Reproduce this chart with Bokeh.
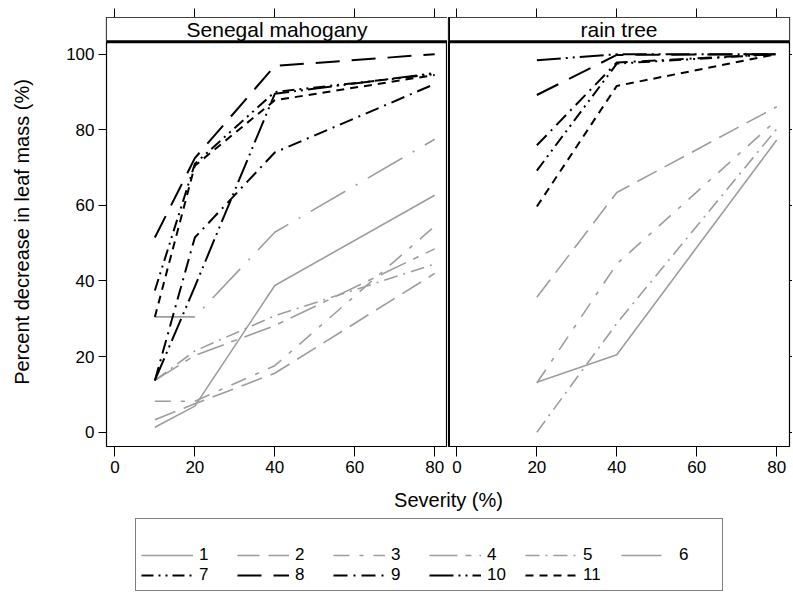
from bokeh.plotting import figure
from bokeh.models import (Range1d, Span, BoxAnnotation, Label, Legend, LegendItem,
                          LinearAxis, FixedTicker)
from bokeh.layouts import row, column
from bokeh.embed import file_html
from bokeh.resources import INLINE

FONT = "Liberation Sans"

# ---------------- data ----------------
tree_labels = ["1", "2", "3", "4", "5", "6", "7", "8", "9", "10", "11"]
x_ticks = [0, 20, 40, 60, 80]
y_ticks = [0, 20, 40, 60, 80, 100]

severity_sm = [10, 20, 40, 80]
sm_1 = [1.3, 6.9, 38.8, 62.7]
sm_2 = [3.3, 7.5, 15.6, 42.0]
sm_3 = [8.2, 8.2, 17.6, 54.5]
sm_4 = [13.7, 20.3, 28.2, 48.5]
sm_5 = [13.7, 21.5, 30.8, 44.5]
sm_6 = [30.5, 30.5, 52.9, 77.5]
sm_7 = [37.5, 71.0, 90.0, 94.7]
sm_8 = [51.5, 72.5, 96.9, 100.0]
sm_9 = [13.7, 51.5, 74.0, 92.1]
sm_10 = [13.7, 38.5, 89.5, 95.0]
sm_11 = [30.5, 70.5, 87.8, 94.5]

severity_rt = [20, 40, 80]
rt_1 = [13.2, 20.5, 77.3]
rt_2 = [35.7, 63.4, 86.1]
rt_3 = [13.0, 44.5, 82.6]
rt_5 = [0.0, 28.8, 80.2]
rt_7 = [69.2, 97.5, 100.0]
rt_8 = [89.2, 99.8, 100.0]
rt_9 = [75.9, 97.8, 100.0]
rt_10 = [98.4, 100.0, 100.0]
rt_11 = [59.7, 91.6, 100.0]

sm_series = {"1": sm_1, "2": sm_2, "3": sm_3, "4": sm_4, "5": sm_5, "6": sm_6,
             "7": sm_7, "8": sm_8, "9": sm_9, "10": sm_10, "11": sm_11}
rt_series = {"1": rt_1, "2": rt_2, "3": rt_3, "5": rt_5,
             "7": rt_7, "8": rt_8, "9": rt_9, "10": rt_10, "11": rt_11}

# ---------------- styles ----------------
GRAY = "#9d9d9d"
styles = {
    "1": (GRAY, "solid", 1.6),
    "2": (GRAY, "22 9", 1.6),
    "3": (GRAY, "16 10 4 10", 1.6),
    "4": (GRAY, "28 8 6 8", 1.6),
    "5": (GRAY, "14 6 2 6", 1.6),
    "6": (GRAY, "40 12 2 12", 1.6),
    "7": ("black", "12 5 2 5 2 5", 2.0),
    "8": ("black", "24 12", 2.0),
    "9": ("black", "14 6 2 6", 2.0),
    "10": ("black", "24 5 2 5 2 5", 2.0),
    "11": ("black", "8 6", 2.0),
}

XMIN, XMAX = -2.1, 83.2
YMIN, YMAX = -3.78, 109.7
STRIP_BOTTOM = 103.3


def blank_labels(ticks):
    return {t: "" for t in ticks}


def style_axis(ax, ticks, labels=True, tick_out=9):
    ax.major_tick_out = tick_out
    ax.major_tick_in = 0
    ax.minor_tick_line_color = None
    ax.axis_line_color = None
    ax.major_tick_line_color = "black"
    ax.major_tick_line_width = 1
    ax.major_label_text_font = FONT
    ax.major_label_text_font_size = "17px"
    ax.major_label_text_color = "black"
    if labels:
        ax.major_label_standoff = 4
    else:
        ax.major_label_overrides = blank_labels(ticks)
        ax.major_label_standoff = 0


def make_panel(title, xs, series, left):
    p = figure(frame_width=341, frame_height=429,
               x_range=Range1d(XMIN, XMAX), y_range=Range1d(YMIN, YMAX),
               output_backend="svg", toolbar_location=None,
               x_axis_location=None, y_axis_location=None)
    p.min_border = 0
    p.min_border_top = 17
    p.min_border_bottom = 34
    p.min_border_left = 106 if left else 1
    p.grid.visible = False
    p.outline_line_color = "black"
    p.outline_line_width = 1.2
    p.background_fill_color = "white"
    p.border_fill_color = "white"

    xb = LinearAxis(ticker=FixedTicker(ticks=x_ticks))
    style_axis(xb, x_ticks, labels=True, tick_out=10)
    p.add_layout(xb, "below")
    xt = LinearAxis(ticker=FixedTicker(ticks=x_ticks))
    style_axis(xt, x_ticks, labels=False, tick_out=9)
    p.add_layout(xt, "above")
    ya = LinearAxis(ticker=FixedTicker(ticks=y_ticks))
    if left:
        style_axis(ya, y_ticks, labels=True, tick_out=8)
        ya.axis_label = "Percent decrease in leaf mass (%)"
        ya.axis_label_text_font = FONT
        ya.axis_label_text_font_style = "normal"
        ya.axis_label_text_font_size = "20px"
        ya.axis_label_text_color = "black"
        ya.axis_label_standoff = 30
        p.add_layout(ya, "left")
    else:
        style_axis(ya, y_ticks, labels=False, tick_out=3)
        p.add_layout(ya, "right")

    for key in tree_labels:
        if key not in series:
            continue
        color, dash, w = styles[key]
        p.line(xs, series[key], line_color=color, line_dash=dash, line_width=w)

    # strip header
    p.add_layout(BoxAnnotation(bottom=STRIP_BOTTOM, fill_color="white", fill_alpha=1.0,
                               line_color=None))
    p.add_layout(Span(location=STRIP_BOTTOM, dimension="width", line_color="black",
                      line_width=3))
    p.add_layout(Label(x=(XMIN + XMAX) / 2, y=(STRIP_BOTTOM + YMAX) / 2, text=title,
                       text_align="center", text_baseline="middle",
                       text_font=FONT, text_font_size="21px", text_color="black"))
    if not left:
        p.add_layout(Span(location=XMIN, dimension="height", line_color="black",
                          line_width=3))
    return p


p_left = make_panel("Senegal mahogany", severity_sm, sm_series, True)
p_right = make_panel("rain tree", severity_rt, rt_series, False)

# ---------------- legend figure ----------------
LEG_H = 112
# the legend's renderers carry the real series but sit outside this figure's visible range
p_leg = figure(width=793, height=LEG_H, x_range=Range1d(0, 1), y_range=Range1d(-400, -300),
               output_backend="svg", toolbar_location=None,
               x_axis_location=None, y_axis_location=None)
p_leg.min_border = 0
p_leg.grid.visible = False
p_leg.outline_line_color = None

items = []
for key in tree_labels:
    color, dash, w = styles[key]
    r = p_leg.line(x=severity_sm, y=sm_series[key], line_color=color, line_dash=dash,
                   line_width=w)
    items.append(LegendItem(label=key, renderers=[r]))

legend = Legend(items=items, ncols=6, orientation="horizontal", location=(135, 1),
                title=" ", title_text_font_size="16px", title_standoff=3,
                border_line_color="black", border_line_width=1.2,
                background_fill_color="white", background_fill_alpha=1.0,
                padding=5, margin=0, spacing=0,
                glyph_width=52, glyph_height=20, label_standoff=6, label_width=38,
                label_text_font=FONT, label_text_font_size="17px",
                label_text_color="black")
p_leg.add_layout(legend, "center")

p_leg.add_layout(Label(x=448, y=592 - 499, x_units="screen", y_units="screen",
                       text="Severity (%)", text_align="center", text_baseline="middle",
                       text_font=FONT, text_font_size="20px", text_color="black"))
p_leg.add_layout(Label(x=428, y=592 - 529, x_units="screen", y_units="screen",
                       text="Tree", text_align="center", text_baseline="middle",
                       text_font=FONT, text_font_size="19px", text_color="black"))

layout = column(row(p_left, p_right), p_leg)

open("out.html", "w").write(file_html(layout, INLINE))
